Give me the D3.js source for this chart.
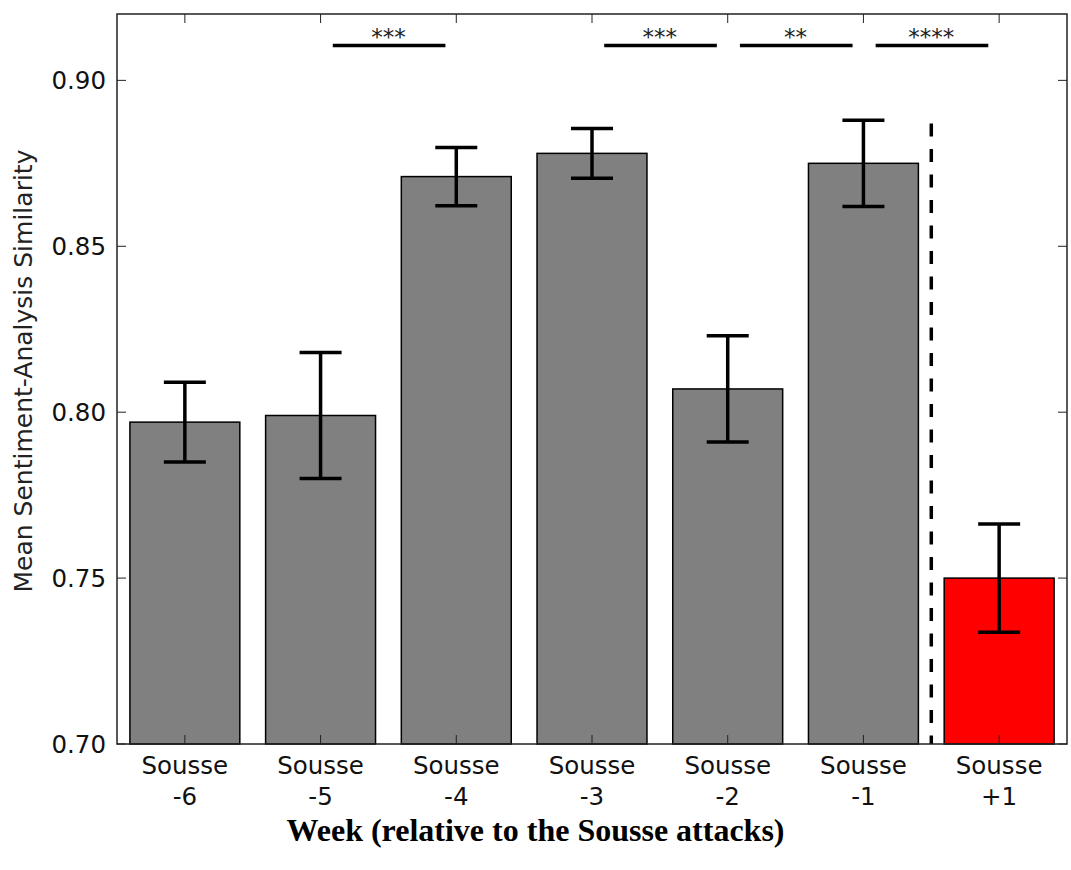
<!DOCTYPE html>
<html lang="en">
<head>
  <meta charset="UTF-8" />
  <title>Sousse sentiment similarity</title>
  <script src="https://d3js.org/d3.v7.min.js"></script>
  <style>
    body{margin:0;background:#fff}
    svg{display:block}
    .tick-label{font-family:"DejaVu Sans",sans-serif;font-size:24.5px;fill:#111}
  </style>
</head>
<body>
  <div id="chart"></div>
  <script>
    const weeks = ["-6", "-5", "-4", "-3", "-2", "-1", "+1"];
    const means = [0.797, 0.799, 0.871, 0.878, 0.807, 0.875, 0.750];
    const errs = [0.012, 0.019, 0.0088, 0.0075, 0.016, 0.013, 0.0163];
    const colors = ["#808080", "#808080", "#808080", "#808080", "#808080", "#808080", "#ff0000"];
    const yTicks = [0.70, 0.75, 0.80, 0.85, 0.90];
    // significance brackets: [from index, to index, label]
    const sigPairs = [[1, 2, "***"], [3, 4, "***"], [4, 5, "**"], [5, 6, "****"]];
    const sigLevel = 0.9105;
    const dividerAt = 5.5, dividerTop = 0.887;

    const W = 1071, H = 870;
    const L = 117, R = 1067, T = 14, B = 744;

    const svg = d3.select("#chart").append("svg").attr("width", W).attr("height", H);
    const x = d3.scaleLinear().domain([-0.5, weeks.length - 0.5]).range([L, R]);
    const y = d3.scaleLinear().domain([0.70, 0.92]).range([B, T]);
    const half = 0.405;

    // bars
    svg.selectAll("rect.bar").data(means).enter().append("rect")
      .attr("class", "bar")
      .attr("x", (d, i) => x(i - half)).attr("width", (d, i) => x(i + half) - x(i - half))
      .attr("y", d => y(d)).attr("height", d => y(0.70) - y(d))
      .attr("fill", (d, i) => colors[i]).attr("stroke", "#000").attr("stroke-width", 1.5);

    // dashed divider
    svg.append("line")
      .attr("x1", x(dividerAt)).attr("x2", x(dividerAt))
      .attr("y1", y(dividerTop)).attr("y2", y(0.70))
      .attr("stroke", "#000").attr("stroke-width", 3.5).attr("stroke-dasharray", "13,12.5");

    // error bars
    const eb = svg.append("g").attr("stroke", "#000").attr("stroke-width", 3.5);
    means.forEach((m, i) => {
      const cx = x(i);
      eb.append("line").attr("x1", cx).attr("x2", cx).attr("y1", y(m + errs[i])).attr("y2", y(m - errs[i]));
      eb.append("line").attr("x1", cx - 21).attr("x2", cx + 21).attr("y1", y(m + errs[i])).attr("y2", y(m + errs[i]));
      eb.append("line").attr("x1", cx - 21).attr("x2", cx + 21).attr("y1", y(m - errs[i])).attr("y2", y(m - errs[i]));
    });

    // significance lines and stars
    sigPairs.forEach(([a, b, lab]) => {
      svg.append("line")
        .attr("x1", x(a + 0.09)).attr("x2", x(b - 0.08))
        .attr("y1", y(sigLevel)).attr("y2", y(sigLevel))
        .attr("stroke", "#000").attr("stroke-width", 3.5);
      svg.append("text")
        .attr("x", x((a + b) / 2)).attr("y", y(sigLevel) - 1)
        .attr("text-anchor", "middle")
        .style("font-family", "DejaVu Sans, sans-serif").style("font-size", "23px").style("fill", "#222")
        .text(lab);
    });

    // frame
    svg.append("rect").attr("x", L).attr("y", T).attr("width", R - L).attr("height", B - T)
      .attr("fill", "none").attr("stroke", "#222").attr("stroke-width", 1.5);

    // ticks (inward, all four sides)
    const tk = svg.append("g").attr("stroke", "#222").attr("stroke-width", 1);
    yTicks.forEach(v => {
      tk.append("line").attr("x1", L).attr("x2", L + 9).attr("y1", y(v)).attr("y2", y(v));
      tk.append("line").attr("x1", R).attr("x2", R - 9).attr("y1", y(v)).attr("y2", y(v));
    });
    weeks.forEach((w, i) => {
      tk.append("line").attr("x1", x(i)).attr("x2", x(i)).attr("y1", B).attr("y2", B - 9);
      tk.append("line").attr("x1", x(i)).attr("x2", x(i)).attr("y1", T).attr("y2", T + 9);
    });

    // tick labels
    svg.selectAll("text.ylab").data(yTicks).enter().append("text")
      .attr("class", "tick-label ylab")
      .attr("x", L - 11).attr("y", d => y(d)).attr("dy", "0.36em")
      .attr("text-anchor", "end").text(d3.format(".2f"));

    const xl = svg.selectAll("text.xlab").data(weeks).enter().append("text")
      .attr("class", "tick-label xlab").attr("text-anchor", "middle");
    xl.append("tspan").attr("x", (d, i) => x(i)).attr("y", 774).text("Sousse");
    xl.append("tspan").attr("x", (d, i) => x(i)).attr("y", 805).text(d => d);

    // axis titles
    svg.append("text")
      .attr("transform", `translate(32,371) rotate(-90)`)
      .attr("text-anchor", "middle")
      .style("font-family", "DejaVu Sans, sans-serif").style("font-size", "25px").style("fill", "#222")
      .text("Mean Sentiment-Analysis Similarity");

    svg.append("text")
      .attr("x", W / 2).attr("y", 841).attr("text-anchor", "middle")
      .style("font-family", "Liberation Serif, serif").style("font-size", "32px").style("font-weight", "bold")
      .text("Week (relative to the Sousse attacks)");
  </script>
</body>
</html>
